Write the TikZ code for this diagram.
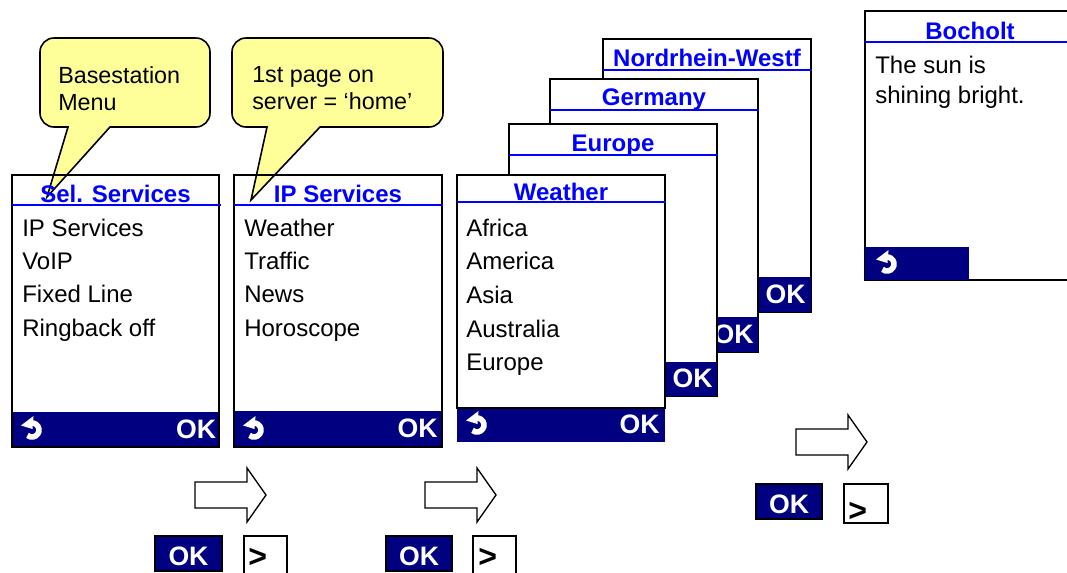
\documentclass[tikz,border=0pt]{standalone}
\usepackage{fontspec}
\setmainfont{Liberation Sans}
\usetikzlibrary{arrows.meta}

\definecolor{titleblue}{RGB}{0,0,255}
\definecolor{barnavy}{RGB}{0,0,128}
\definecolor{noteyellow}{RGB}{255,255,153}

\tikzset{
  screenbox/.style={draw=black, line width=1.2pt},
  titleline/.style={draw=titleblue, line width=1.5pt},
  softbar/.style={fill=barnavy},
  titletext/.style={anchor=base, inner sep=0pt, text=titleblue, font=\bfseries\fontsize{18}{20}\selectfont},
  itemtext/.style={anchor=base west, inner sep=0pt, font=\fontsize{18}{20}\selectfont},
  oktext/.style={anchor=base east, inner sep=0pt, text=white, font=\bfseries\fontsize{20}{22}\selectfont},
  notebubble/.style={draw=black, fill=noteyellow, line width=1.2pt},
  notetext/.style={anchor=base west, inner sep=0pt, font=\fontsize{17.5}{20}\selectfont},
  blockarrow/.style={draw=black, fill=white, line width=1pt},
  okkey/.style={draw=black, fill=barnavy, line width=1pt},
  nextkey/.style={draw=black, fill=white, line width=1pt},
  keytext/.style={anchor=base, inner sep=0pt, text=white, font=\bfseries\fontsize{20}{22}\selectfont},
  nexttext/.style={anchor=base west, inner sep=0pt, font=\bfseries\fontsize{24}{24}\selectfont}
}

% return key glyph
\newcommand{\backsym}[2]{%
  \begin{scope}[shift={(#1,#2)}]
    \draw[white, line width=4.2pt] (-1.2,-6.9) arc[start angle=-100, end angle=130, radius=7];
    \fill[white] (1.5,-14) -- (0.5,-1) -- (-11,-4.5) -- cycle;
  \end{scope}}

% block arrow, left end of shaft at (#1,#2)
\newcommand{\blockarr}[2]{%
  \draw[blockarrow] (#1,#2) ++(0,-13) -- ++(52,0) -- ++(0,-14) -- ++(19,27) -- ++(-19,27) -- ++(0,-14) -- ++(-52,0) -- cycle;}

\begin{document}
\begin{tikzpicture}[x=0.75pt,y=0.75pt,yscale=-1,xscale=1]
\clip (0,0) rectangle (1067,572);

%Shape: Callout
\filldraw[notebubble] (68,127) -- (47,197) -- (110,127) -- (196,127) arc[start angle=90, end angle=0, radius=14] -- (210,52) arc[start angle=0, end angle=-90, radius=14] -- (54,38) arc[start angle=-90, end angle=-180, radius=14] -- (40,113) arc[start angle=180, end angle=90, radius=14] -- cycle;
%Shape: Callout
\filldraw[notebubble] (267,127) -- (251,200) -- (320,127) -- (429,127) arc[start angle=90, end angle=0, radius=14] -- (443,52) arc[start angle=0, end angle=-90, radius=14] -- (246,38) arc[start angle=-90, end angle=-180, radius=14] -- (232,113) arc[start angle=180, end angle=90, radius=14] -- cycle;

% Text Node
\node[notetext] (noteA1) at (58,83) {Basestation};
\node[notetext] (noteA2) at (58,110) {Menu};
% Text Node
\node[notetext] (noteB1) at (252,82) {1st page on};
\node[notetext] (noteB2) at (252,109) {server = ‘home’};

%Shape: Screen Sel. Services
\fill[softbar] (12,412) rectangle (219,447);
\draw[screenbox] (12,175) rectangle (219,447);
\draw[titleline] (12,205) -- (221,205);
\node[titletext] (selserv) at (115.5,202) {Sel. Services};
\node[itemtext] (selA) at (22,236) {IP Services};
\node[itemtext] (selB) at (22,269) {VoIP};
\node[itemtext] (selC) at (22,302) {Fixed Line};
\node[itemtext] (selD) at (22,336) {Ringback off};
\backsym{32}{430}
\node[oktext] (selok) at (216.5,438) {OK};

%Shape: Screen IP Services
\fill[softbar] (234,411) rectangle (442,447);
\draw[screenbox] (234,175) rectangle (442,447);
\draw[titleline] (234,205) -- (443,205);
\node[titletext] (ipserv) at (338,202) {IP Services};
\node[itemtext] (ipA) at (244,236) {Weather};
\node[itemtext] (ipB) at (244,269) {Traffic};
\node[itemtext] (ipC) at (244,302) {News};
\node[itemtext] (ipD) at (244,336) {Horoscope};
\backsym{254}{430}
\node[oktext] (ipok) at (438,437) {OK};

%Shape: Screen Nordrhein-Westf
\filldraw[screenbox, fill=white] (603,39) rectangle (811,312);
\fill[softbar] (759,277) rectangle (811,312);
\draw[titleline] (603,70) -- (812,70);
\node[titletext] (nrw) at (707,66) {Nordrhein-Westf};
\node[oktext] (nrwok) at (806,303) {OK};

%Shape: Screen Germany
\filldraw[screenbox, fill=white] (550,79) rectangle (758,352);
\fill[softbar] (706,317) rectangle (758,352);
\draw[titleline] (550,110) -- (759,110);
\node[titletext] (germany) at (654,105) {Germany};
\node[oktext] (germanyok) at (754,343) {OK};

%Shape: Screen Europe
\filldraw[screenbox, fill=white] (509,124) rectangle (717,396);
\fill[softbar] (665,362) rectangle (717,396);
\draw[titleline] (509,155) -- (718,155);
\node[titletext] (europe) at (613,151) {Europe};
\node[oktext] (europeok) at (713,387) {OK};

%Shape: Screen Weather
\filldraw[screenbox, fill=white] (457,175) rectangle (665,408);
\fill[softbar] (457,409) rectangle (665,442);
\draw[titleline] (457,202) -- (666,202);
\node[titletext] (weather) at (561,200) {Weather};
\node[itemtext] (wA) at (466,236) {Africa};
\node[itemtext] (wB) at (466,269) {America};
\node[itemtext] (wC) at (466,303) {Asia};
\node[itemtext] (wD) at (466,337) {Australia};
\node[itemtext] (wE) at (466,370) {Europe};
\backsym{477}{425}
\node[oktext] (weatherok) at (660,433) {OK};

%Shape: Screen Bocholt
\filldraw[screenbox, fill=white] (865,11) rectangle (1075,280);
\fill[softbar] (865,247) rectangle (969,280);
\draw[titleline] (865,42) -- (1075,42);
\node[titletext] (bocholt) at (970,39) {Bocholt};
\node[itemtext] (bA) at (875,73) {The sun is};
\node[itemtext] (bB) at (875,103) {shining bright.};
\backsym{887}{264}

%Shape: Block Arrows
\blockarr{195}{495}
\blockarr{425}{495}
\blockarr{796}{442}

%Shape: Keys
\draw[okkey] (155,536) rectangle (222,571);
\node[keytext] (keyokA) at (188.5,565) {OK};
\draw[nextkey] (244,536) rectangle (287,576);
\node[nexttext] (keynextA) at (248,567) {>};
\draw[okkey] (386,536) rectangle (452,571);
\node[keytext] (keyokB) at (419,565) {OK};
\draw[nextkey] (473,536) rectangle (516,576);
\node[nexttext] (keynextB) at (478,567) {>};
\draw[okkey] (756,484) rectangle (822,519);
\node[keytext] (keyokC) at (789,513) {OK};
\draw[nextkey] (844,484) rectangle (888,523);
\node[nexttext] (keynextC) at (848,521) {>};

\end{tikzpicture}
\end{document}
